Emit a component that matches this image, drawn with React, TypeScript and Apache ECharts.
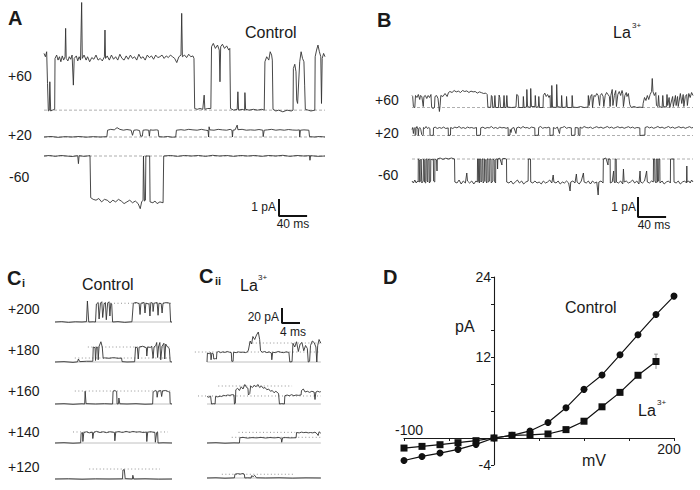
import React, { useEffect, useRef } from "react";
import * as echarts from "echarts";

type Pt = [number, number];

// ---------------- Panel D : I-V relation ----------------
const ivVoltages = [-100, -80, -60, -40, -20, 0, 20, 40, 60, 80, 100, 120, 140, 160, 180, 200];
const ivControl = [-3.35, -2.75, -2.25, -1.7, -0.95, 0, 0.4, 1.05, 2.3, 4.5, 7.25, 9.4, 12.4, 15.4, 18.4, 21.15];
const ivLa = [-1.5, -1.25, -1.0, -0.7, -0.4, 0, 0.4, 0.45, 0.6, 1.25, 2.5, 4.65, 6.8, 9.35, 11.4];
const ivLaErr = 1.1;
const ivYLabels = [24, 12, -4];

// ---------------- Panel A : control traces (ms, pA) ----------------
const traceA60: Pt[] = [[0,3.4],[2,3.2],[3.8,3.5],[5,1.6],[6.2,-0.05],[7.5,0],[8.3,1.7],[9.5,-0.05],[12,0],[15.2,0.05],[15.7,3.1],[18,3.3],[20,3.0],[22,3.2],[24,2.9],[26,3.25],[28,3.0],[30,3.2],[30.8,4.9],[31.6,3.1],[34,2.95],[36,3.2],[38,3.05],[40,3.3],[41.8,1.5],[43,3.1],[46,3.25],[48,2.95],[50,3.2],[52,3.0],[53.6,6.45],[54.5,3.1],[57,3.3],[60,3.0],[62,3.2],[65,2.9],[68,3.15],[71,3.05],[74,3.3],[77,3.0],[80,3.1],[83,2.95],[86,3.2],[86.8,4.8],[87.6,3.1],[90,3.25],[93,3.0],[96,3.3],[99,3.05],[102,3.2],[105,3.0],[108,3.35],[111,3.1],[114,3.0],[117,3.25],[120,3.05],[123,3.3],[126,3.1],[129,3.2],[132,3.0],[135,3.35],[138,3.1],[141,3.2],[144,3.0],[147,3.3],[150,3.15],[153,3.25],[156,3.05],[159,3.3],[162,3.15],[165,3.2],[168,3.3],[171,3.1],[174,3.25],[177,3.15],[180,3.3],[183,3.2],[186,3.1],[189,2.85],[192,3.2],[195,3.3],[196,5.8],[197,3.2],[200,3.3],[203,3.15],[206,3.35],[209,3.2],[212,3.25],[213.5,3.1],[214.5,0.1],[218,0.05],[222,0.1],[226,0.05],[228,0.9],[229,0.05],[233,0.1],[237.5,0.1],[238.5,3.8],[241,4.0],[244,3.7],[247,3.9],[249.5,3.6],[250.5,1.7],[251.5,3.8],[254,3.95],[257,3.7],[260,3.85],[263,3.6],[264.5,3.7],[265.5,0.1],[270,0],[275,0.05],[276,1.1],[277,0],[282,0.05],[285.5,0],[286,1.05],[287,0.05],[292,0],[298,0.05],[304,0],[310,0.05],[313.5,0],[314.5,2.9],[317,3.2],[320,3.0],[322,3.5],[324,3.3],[325,3.0],[326,0.05],[330,-0.05],[334,0],[340,-0.1],[346,0],[352,-0.05],[354.5,0],[355,2.5],[357,2.75],[358.7,2.3],[359.7,0.6],[361,0.4],[364,2.9],[366,3.5],[368,3.1],[370,2.9],[371,1.5],[372,0.05],[376,0],[380,-0.05],[385.5,0],[386,3.2],[388,3.6],[390,3.9],[392,3.5],[394,3.2],[395,0.4],[396,3.1],[398,3.4],[400,3.2]];

const traceA20: Pt[] = [[0,0],[10,0.03],[20,-0.02],[30,0.02],[40,0],[50,0.03],[60,-0.01],[70,0.02],[80,0],[89.5,0.02],[90.5,0.4],[95,0.45],[100,0.42],[104,0.55],[108,0.45],[113,0.4],[118,0.44],[124,0.4],[126,0.1],[128,0.4],[132,0.42],[136,0.38],[137.5,0.05],[140,0.05],[141,0.4],[145,0.42],[149,0.4],[150,0.05],[151,0.42],[155,0.4],[160,0.42],[162.5,0.4],[163.5,0.02],[170,0],[176,0.03],[182,-0.01],[187.5,0],[188.5,0.4],[195,0.43],[200,0.4],[206,0.45],[212,0.42],[218,0.4],[224,0.45],[230,0.4],[233.5,0.38],[234.3,0.0],[235,0.6],[236,0.42],[242,0.4],[248,0.45],[254,0.42],[260,0.4],[265,0.45],[267.5,0.4],[268.3,0],[269,0.4],[272,0.42],[275,0.7],[276,0.43],[282,0.45],[288,0.4],[294,0.42],[300,0.4],[306,0.44],[311.5,0.4],[312,0.02],[313.5,0.4],[318,0.42],[324,0.45],[330,0.4],[336,0.43],[342,0.4],[348,0.44],[354,0.41],[360,0.4],[363.5,0.42],[364,0.0],[365,0.4],[370,0.42],[377,0.4],[378,0.02],[385,0],[392,0.03],[400,0]];

const traceAm60: Pt[] = [[0,0],[8,0.03],[16,-0.02],[24,0.03],[32,0],[40,-0.03],[48,0.02],[49,-0.45],[50,0.02],[57,-0.02],[65.5,0.02],[66.5,-2.45],[70,-2.55],[74,-2.6],[78,-2.5],[82,-2.7],[86,-2.55],[90,-2.6],[94,-2.75],[98,-2.6],[102,-2.7],[106,-2.55],[110,-2.65],[114,-2.8],[118,-2.7],[122,-2.6],[126,-2.75],[130,-2.65],[134,-2.8],[137,-3.1],[139,-2.7],[141,-2.6],[141.6,0],[142.4,0],[143,-2.65],[144.4,-2.6],[145,0],[150.4,0],[151,-2.7],[155,-2.75],[158,-2.65],[161,-2.8],[165,-2.7],[169.5,-2.75],[170.4,0],[180,0.03],[190,-0.02],[200,0.03],[210,0],[220,0.03],[230,-0.02],[240,0.04],[250,0],[260,0.03],[270,-0.02],[280,0.03],[290,0],[300,0.03],[310,-0.02],[320,0.03],[330,0],[340,0.04],[350,-0.02],[360,0.03],[370,0],[378,0.02],[378.6,-0.25],[379.4,0.02],[390,-0.02],[400,0]];

// ---------------- Panel B : La3+ traces (ms, pA) ----------------
const traceB60: Pt[] = [[0,0.6],[1,0.55],[2,0.05],[4,0],[5,0.6],[7,0.5],[9,0.65],[11,0.4],[12,0.6],[14,0.55],[16,0.05],[17,0.55],[19,0.6],[21,0.45],[23,0.6],[25,0.5],[27,0.65],[28,0],[30,-0.05],[32,0],[32.7,0.55],[35,0.6],[37,0.45],[39,-0.2],[40,0.1],[41,0.6],[44,0.55],[47,0.7],[50,0.55],[52,0.75],[54,0.8],[57,0.75],[60,0.85],[63,0.78],[66,0.82],[69,0.75],[72,0.85],[75,0.8],[78,0.83],[81,0.75],[84,0.82],[87,0.78],[90,0.8],[93,0.72],[96,0.78],[99,0.74],[102,0.7],[105,0.72],[107,0.65],[108,0.02],[112,0],[113,0.6],[114,0.55],[115,0],[117,0.02],[118,0.6],[119,0],[123,0],[124,0.62],[125,0.5],[126,0],[130,0],[131,0.6],[132,0],[134,0],[135,0.6],[136,0.02],[142,0],[148,0.02],[149,0.65],[151,0.6],[152,0],[158,0],[158.5,0.55],[159.5,0],[163,0.02],[163.5,0.9],[164.5,0.05],[168.5,0],[169,0.95],[170,0.05],[175,0.05],[175.5,0.6],[176.5,0],[180,0.05],[180.5,0.55],[181.5,0],[186.5,0],[187,0.6],[189,0.72],[191,0.55],[193,0.65],[195,0.5],[196.5,0.6],[197,0],[198.5,0],[199,1.1],[200,0.02],[205.5,0],[206,1.15],[207,0.05],[212.5,0],[213,0.6],[214,0],[219.5,0.02],[220,0.55],[221,0],[227.5,0],[228,0.6],[229,0.02],[235,0],[240,0.05],[245,0],[250.5,0.02],[251,0.6],[252,0.1],[254,0.55],[256,0.65],[257,0],[259,0.6],[261,0.55],[263,0.7],[265,0.6],[267,0.1],[268,0.6],[270,0.7],[272,0.55],[273,0.05],[275,0.6],[277,0.75],[279,0.65],[281,0.55],[282,0.05],[283,0.6],[285,0.9],[286,0.1],[288,0.6],[290,0.85],[291,0.05],[293,0.65],[295,0.8],[297,0.6],[299,0.85],[300,0.7],[301,0.05],[303,0.6],[305,0.75],[306,0.55],[308,0.7],[310,0.15],[312,0],[316,0.05],[320,0],[324,0.02],[328.5,0],[329,0.2],[331,0.5],[333,0.35],[335,0.6],[337,0.4],[339,0.65],[341,0.8],[342,1.45],[343,0.8],[345,0.6],[347,0.75],[348,0.1],[350,0.05],[351,0.6],[352,0.05],[356,0],[357,0.6],[358,0.05],[362,0.02],[363,0.65],[364,0.1],[366,0.5],[367,0],[371,0.55],[372,0.05],[375,0.6],[376,0.1],[378,0.55],[379,0.05],[382,0.7],[384,0.2],[386,0.65],[387,0.05],[389,0.55],[391,0.65],[392,0.1],[394,0.7],[396,0.5],[398,0.75],[400,0.6]];

const traceB20: Pt[] = [[0,0.3],[1,0.4],[2,0.1],[3,0.35],[4.3,0.4],[4.5,0],[5.5,0.05],[5.8,0.35],[7,0.45],[8.5,0.3],[9,0],[9.8,0.35],[11,0.4],[12.5,0.3],[13.8,0.05],[15,0],[16,0.05],[16.3,0.4],[18,0.35],[20,0.45],[22,0.35],[24,0.4],[25.5,0.35],[25.7,0.02],[28,0],[30.4,0.02],[30.6,0.38],[33,0.42],[36,0.35],[39,0.4],[42,0.36],[45,0.42],[48,0.35],[51.5,0.38],[51.8,0],[54.8,0.02],[55,0.4],[58,0.35],[61,0.42],[64,0.38],[67,0.45],[70,0.36],[73,0.4],[76,0.35],[79,0.42],[82,0.38],[85,0.4],[88,0.36],[91.8,0.4],[92,0],[97.5,0.02],[97.8,0.38],[101,0.42],[104,0.35],[107,0.4],[110,0.38],[113,0.45],[116,0.36],[119,0.4],[122,0.35],[125,0.42],[128,0.38],[131,0.4],[134,0.36],[136.8,0.4],[137,0],[139.5,0.02],[139.8,0.3],[141,0.15],[142,0.35],[145,0.4],[148,0.1],[149,0.38],[152,0.42],[155,0.36],[158,0.45],[161,0.38],[164,0.4],[167,0.35],[170,0.42],[174.8,0.38],[175,0],[180,0.02],[180.3,0.4],[183,0.45],[186,0.36],[189,0.4],[192,0.38],[195,0.42],[196.2,0.38],[196.4,0],[201,0.02],[201.3,0.4],[204,0.35],[207,0.42],[210,0.1],[211,0.38],[214,0.4],[217,0.45],[220,0.36],[223,0.4],[226.8,0.38],[227,0],[232,0.02],[232.3,0.4],[236.6,0.38],[236.8,0.05],[239,0],[239.3,0.42],[242,0.36],[245,0.45],[248,0.4],[251,0.38],[254,0.42],[257,0.35],[260,0.4],[263,0.44],[266,0.38],[269,0.42],[272,0.36],[275,0.4],[278,0.45],[281,0.38],[284,0.42],[287,0.36],[290,0.4],[293,0.44],[296,0.38],[299,0.42],[302,0.36],[305,0.4],[308,0.44],[311,0.38],[314,0.42],[317,0.36],[320,0.4],[324.3,0.38],[324.5,0],[331.5,0.02],[331.8,0.4],[335,0.44],[338,0.38],[341,0.42],[344,0.36],[347,0.4],[350,0.45],[353,0.38],[356,0.42],[359,0.36],[362,0.4],[365,0.45],[368,0.38],[371,0.42],[374,0.36],[377,0.4],[380,0.44],[383,0.38],[386,0.42],[389,0.36],[392,0.4],[395,0.44],[398,0.38],[400,0.4]];

const traceBm60: Pt[] = [[0,-1.1],[2,-1.2],[4,-1.05],[6,-1.2],[8,-1.1],[8.8,-1.15],[9,0],[10.5,-0.05],[10.8,-1.15],[12.5,-1.1],[12.8,0],[13.8,0],[14,-1.2],[16,-1.1],[16.3,0],[17.5,-0.05],[17.8,-1.15],[19.5,-1.2],[19.8,0],[21.2,0],[21.5,-1.1],[22.5,-1.15],[22.8,-0.05],[24.4,0],[24.7,-1.2],[26.5,-1.1],[26.8,0],[29,-0.05],[30.4,0],[30.7,-1.1],[32.4,-1.15],[32.7,0],[35,-0.05],[35.6,-0.6],[36,0],[40,0.05],[44,-0.02],[48,0.04],[52,0],[56,0.05],[60.5,0],[61,-1.15],[64,-1.2],[67,-1.05],[70,-1.25],[73,-1.1],[76,-1.2],[78,-0.7],[79,-1.1],[82,-1.2],[85,-1.1],[88,-1.25],[91,-1.1],[93,-1.15],[93.3,0],[94.5,0],[94.8,-1.1],[96,-1.2],[96.3,0],[97.8,0],[98.1,-1.15],[99.5,-1.1],[99.8,0],[101,0],[101.3,-1.2],[103,-1.1],[103.3,0],[105,-0.05],[105.3,-1.1],[106.5,-1.2],[106.8,0],[108.2,0],[108.5,-1.15],[110.5,-1.1],[110.8,0],[112.5,0],[112.8,-1.2],[115,-1.1],[115.3,0],[117,-0.05],[117.3,-1.1],[119,-1.2],[119.3,0],[121.5,0],[121.8,-0.5],[122.2,0],[125,0.04],[128,-0.3],[128.4,0],[131,0.03],[134.5,0],[134.8,-1.15],[138,-1.2],[141,-1.1],[144,-1.25],[147,-1.15],[150,-1.05],[153,-1.2],[156,-1.1],[159,-1.25],[162,-1.15],[165.3,-1.1],[165.6,0],[168.7,0],[169,-1.15],[172,-1.2],[175,-1.1],[178,-1.2],[181,-1.15],[184,-1.25],[187,-1.1],[190,-1.2],[193,-1.15],[196,-1.05],[199,-1.2],[201,-0.8],[202,-1.15],[205,-1.2],[208,-1.1],[211,-1.25],[214,-1.15],[217,-1.2],[220,-1.1],[223,-1.2],[225,-1.6],[226,-1.15],[229,-1.1],[232,-1.2],[234,-0.75],[235,-1.15],[238,-1.25],[241,-1.1],[244,-0.7],[245,-1.15],[248,-1.2],[251,-1.1],[254,-1.25],[257,-1.1],[260,-1.2],[263,-1.15],[265,-1.8],[266,-1.15],[269,-1.1],[272,-1.2],[272.4,0],[276,0.05],[279,-0.3],[279.5,0],[282,0],[282.3,-1.2],[285,-1.15],[287,-0.6],[287.5,-1.1],[289,-1.2],[289.3,0],[290.7,0],[291,-1.15],[294,-1.2],[297,-1.1],[300,-1.25],[301,-0.5],[302,-1.15],[305,-1.1],[308,-1.2],[311,-1.15],[314,-1.05],[317,-1.2],[320,-1.1],[323,-1.25],[324.6,-0.6],[325.5,-1.15],[328,-1.2],[331,-1.1],[334,-0.6],[335,-1.15],[338,-1.2],[341,-1.1],[343.5,-1.15],[343.8,0],[345.5,0],[345.8,-1.1],[347.5,-1.2],[347.8,0],[349.2,0],[349.5,-1.15],[351,-1.1],[351.3,0],[352.7,0],[353,-1.2],[356,-1.1],[359,-1.25],[362,-1.15],[365,-1.1],[367.8,-1.2],[368,0],[372.7,0],[373,-1.15],[376,-1.2],[379,-1.1],[382,-1.25],[385,-1.15],[388,-1.1],[390.8,-1.2],[391.2,-0.35],[391.6,-1.15],[394,-1.1],[396,-1.2],[398,-1.05],[400,-1.15]];

// ---------------- Panel Ci : control, high voltages (ms, pA) ----------------
const traceCi200: Pt[] = [[0,0],[1.5,0.5],[3,-0.5],[4.5,0.3],[6,0],[7,0.5],[7.2,28],[7.5,0],[8.5,0.3],[9,0],[9.2,24],[9.6,26],[9.8,4],[10.1,25],[10.4,27],[10.6,6],[10.9,24],[11.2,26],[11.4,3],[11.7,25],[12,27],[12.2,8],[12.4,25],[12.6,24],[12.8,0],[14,0.5],[15.5,-0.5],[17.1,0.3],[17.4,25],[18,26],[18.7,24.5],[18.9,10],[19.1,25],[19.8,26],[20,12],[20.2,25],[20.9,24],[21.1,8],[21.3,26],[21.7,25],[21.8,14],[22,25],[22.7,26],[22.9,9],[23.1,25],[23.6,24.5],[23.8,12],[24,25],[24.8,26],[25.5,25],[25.7,0],[26,0]];
const traceCi180: Pt[] = [[0,0],[2,0.5],[4,-0.5],[5,0.2],[5.2,4],[5.5,0.5],[7,1],[8.4,1],[8.5,20],[8.9,19],[9.0,2],[9.2,20],[9.5,19.5],[9.6,3],[9.8,21],[10.2,27],[10.5,20],[10.7,5],[11,5.5],[12,5],[13,5.8],[14,5],[14.8,5.2],[14.9,0.5],[16,0],[17.7,0.3],[17.9,20],[18.3,19],[18.5,4],[18.7,20],[19.5,21],[20.3,19],[20.4,8],[20.6,20],[21.2,19.5],[21.5,21],[21.8,5],[22,20],[22.4,22],[22.6,26],[22.8,6],[23,20],[23.3,26],[23.5,3],[23.8,21],[24.2,25],[24.4,4],[24.6,24],[25,20],[25.4,18],[25.6,0.5],[26,0]];
const traceCi160: Pt[] = [[0,0],[2,0.4],[4,-0.4],[6,0.3],[6.6,0],[6.7,17],[6.9,0.5],[9,0],[11,0.4],[12.8,0],[12.9,17],[13.3,18],[13.7,16.5],[13.8,0],[14.1,0.3],[14.2,8],[14.4,0.3],[16,0],[18,0.4],[20,-0.3],[21.7,0],[21.8,16],[22.3,18],[22.6,17],[22.7,9],[22.9,17],[23.5,18],[23.7,10],[23.9,17.5],[24.6,18],[25.2,16.5],[25.5,16],[25.6,0.5],[26,0]];
const traceCi140: Pt[] = [[0,0],[2,0.4],[4,-0.3],[5.7,0.2],[5.8,13],[6.1,14],[6.2,2],[6.4,14],[7,15],[7.6,13.5],[8.3,14.5],[8.4,6],[8.6,14],[9.2,15.5],[10,14],[10.7,15],[11.4,13.8],[12.2,15],[13.2,14.2],[13.3,3],[13.5,14.5],[14.2,15.2],[15,14],[15.8,15.5],[16.6,14.2],[17.3,15.4],[18.1,14.5],[18.8,15],[19.6,14],[20.3,14.6],[20.4,2],[20.6,14.5],[21.3,15],[22.2,14],[22.3,1],[22.6,14],[22.8,14.5],[22.9,0],[24,0.3],[26,0]];
const traceCi120: Pt[] = [[0,0],[3,0.3],[6,-0.3],[9,0.2],[12,0],[15,0.2],[15.1,12],[15.4,12.5],[15.6,0.5],[17.2,0],[17.3,5],[17.5,0],[20,0.3],[23,-0.2],[26,0]];

// ---------------- Panel Cii : La3+, high voltages (ms, pA) ----------------
const traceCii180: Pt[] = [[0,0],[0.1,12],[0.5,11],[0.8,12.5],[0.9,3],[1.1,12],[1.4,11],[1.5,4],[1.9,4.5],[2.1,4],[2.2,13],[2.6,14],[3,12.5],[3.5,13.5],[4,12.8],[4.5,14],[5,13],[5.4,12.5],[5.5,1],[5.8,1],[5.9,13],[6.5,12.5],[7,13.5],[7.5,12.8],[8,13.2],[8.5,12.5],[9,13.5],[9.2,16],[9.6,28],[9.9,24],[10.2,34],[10.6,30],[11,36],[11.4,40],[11.7,30],[11.9,15],[12.3,13],[12.8,14],[13.3,12.5],[13.8,13.5],[14.3,12],[14.4,3],[14.6,13],[15.2,12.5],[15.8,14],[16.4,13],[17,12.5],[17.6,13.5],[18.2,12.8],[18.4,0],[18.9,0.5],[19.1,25],[19.5,20],[19.9,27],[20.3,14],[20.7,24],[21.1,26],[21.5,15],[21.9,22],[22.3,18],[22.5,0],[22.8,1],[23,22],[23.4,28],[23.8,26],[24.2,20],[24.4,0],[24.6,22],[24.9,30],[25.3,25]];
const traceCii160: Pt[] = [[0,10],[0.4,9],[0.8,10.5],[1,0],[1.5,0.5],[1.8,0],[1.9,10],[2.4,9.5],[2.9,10.5],[3.3,10],[3.6,11.5],[4.1,11],[4.6,12],[5.1,11.5],[5.6,12.5],[6,12],[6.1,0],[6.3,1],[6.4,19],[6.8,21],[7.2,18],[7.6,23],[8,20],[8.4,26],[8.8,22],[9.1,21],[9.2,12],[9.5,14],[9.7,24],[10.1,22],[10.5,25],[10.9,23],[11.3,26],[11.7,22],[12.1,24],[12.5,21],[12.9,22],[13.3,19],[13.7,20],[14.1,17],[14.5,18],[14.9,15],[15.3,17],[15.9,14],[16.1,0],[16.6,0.5],[17.2,0],[17.3,11],[17.8,12],[18.3,11],[18.8,12.5],[19.3,11],[19.8,12],[20.3,11.5],[20.9,12],[21,18],[21.4,20],[21.8,16],[22.3,17],[22.8,15.5],[23.3,17],[23.8,16],[24,6],[24.2,16],[24.6,17],[25,16],[25.3,16.5]];
const traceCii140: Pt[] = [[0,0],[2,0.4],[4,-0.3],[6,0.2],[7.2,0],[7.3,7],[8,7.5],[9,6.5],[10,7.2],[11,6.8],[12,7.5],[13,6.6],[14,7.3],[15,6.8],[16,7.4],[16.5,6],[16.6,1],[16.8,7],[17.5,7.2],[18.5,6.8],[19.8,7],[19.9,14],[20.5,13.5],[21,14.5],[21.5,13.8],[22,14.3],[22.5,13.5],[23,14],[23.5,13.5],[24,14.5],[24.5,12],[24.7,10],[24.9,15],[25.3,13]];
const traceCii120: Pt[] = [[0,0],[2,0.3],[4,-0.3],[6.1,0.2],[6.2,5],[6.8,5.8],[7.4,5.2],[8,6],[8.3,5],[8.4,0],[9,0.3],[9.8,0],[9.9,3],[10.3,2],[10.6,3.5],[11,0.3],[13,0],[16,0.3],[19,-0.2],[22,0.2],[25.3,0]];

// open-level dotted guides: [level pA, from ms, to ms]
const dotsCi200 = [[25, 10, 26]];
const dotsCi180 = [[20, 7.3, 25.6], [5.3, 4.4, 25.6]];
const dotsCi160 = [[17.3, 4.4, 25.6]];
const dotsCi140 = [[14.7, 4, 25.1]];
const dotsCi120 = [[13.3, 7.6, 23.3]];
const dotsCii180 = [[13.3, -2.7, 25.3], [25.3, 9.3, 25.3]];
const dotsCii160 = [[10.7, -2, 25.3], [24, 2.5, 18.9]];
const dotsCii140 = [[7.6, 5.5, 25.3], [14.2, 7, 19.6]];
const dotsCii120 = [[5, 3.3, 19.6]];

const scaleBarAB: Pt[] = [[0, 1], [0, 0], [40, 0]]; // 1 pA, 40 ms
const scaleBarC: Pt[] = [[0, 20], [0, 0], [4, 0]]; // 20 pA, 4 ms

const FONT = '"Liberation Sans", Arial, Helvetica, sans-serif';
const INK = "#1a1a1a";
const TRACE = "#333";

function buildOption() {
  const grids: any[] = [];
  const xAxes: any[] = [];
  const yAxes: any[] = [];
  const series: any[] = [];

  // ---- D grid first (index 0) ----
  const dLeft = 404, dRight = 674, dTop = 277, pxPerPA_D = 6.708;
  const yMinD = -4, yMaxD = 24, xMinD = -100, xMaxD = 200;
  const dHeight = (yMaxD - yMinD) * pxPerPA_D;
  const zeroYOffset = -(-yMinD * pxPerPA_D); // move bottom axis up to y=0
  const zeroXOffset = -((0 - xMinD) / (xMaxD - xMinD)) * (dRight - dLeft); // move left axis to x=0
  grids.push({ left: dLeft, top: dTop, width: dRight - dLeft, height: dHeight });
  xAxes.push({
    type: "value", gridIndex: 0, position: "bottom", offset: zeroYOffset, min: xMinD, max: xMaxD, interval: 50,
    axisLine: { onZero: false, lineStyle: { color: INK, width: 1.1 } },
    axisTick: { show: true, length: 3, lineStyle: { color: INK } },
    splitLine: { show: false },
    axisLabel: { formatter: (v: number) => (v === 200 ? "200" : ""), color: INK, fontSize: 14, fontFamily: FONT, margin: 4, padding: [0, 10, 0, 0] },
  });
  xAxes.push({
    type: "value", gridIndex: 0, position: "top", offset: -(yMaxD * pxPerPA_D), min: xMinD, max: xMaxD, interval: 50,
    axisLine: { show: false, onZero: false }, axisTick: { show: false },
    splitLine: { show: false },
    axisLabel: { formatter: (v: number) => (v === -100 ? "-100" : ""), color: INK, fontSize: 14, fontFamily: FONT, margin: 1, padding: [0, 0, 0, 10] },
  });
  yAxes.push({
    type: "value", gridIndex: 0, position: "left", offset: zeroXOffset, min: yMinD, max: yMaxD, interval: 4,
    axisLine: { onZero: false, lineStyle: { color: INK, width: 1.1 } },
    axisTick: { show: true, length: 3, lineStyle: { color: INK } },
    splitLine: { show: false },
    axisLabel: { formatter: (v: number) => (ivYLabels.includes(v) ? String(v) : ""), color: INK, fontSize: 14, fontFamily: FONT, margin: 3 },
  });
  series.push({
    type: "line", xAxisIndex: 0, yAxisIndex: 0, data: ivVoltages.map((v, i) => [v, ivControl[i]]),
    symbol: "circle", symbolSize: 7, itemStyle: { color: "#111" }, lineStyle: { color: "#111", width: 1.2 }, z: 3,
  });
  const laX = ivVoltages.slice(0, ivLa.length);
  const lastX = laX[laX.length - 1], lastY = ivLa[ivLa.length - 1];
  series.push({
    type: "line", xAxisIndex: 0, yAxisIndex: 0, data: [[lastX, lastY - ivLaErr], [lastX, lastY + ivLaErr]],
    symbol: "none", lineStyle: { color: "#888", width: 1 }, z: 2,
  });
  series.push({
    type: "line", xAxisIndex: 0, yAxisIndex: 0, data: [[lastX - 2, lastY + ivLaErr], [lastX + 2, lastY + ivLaErr]],
    symbol: "none", lineStyle: { color: "#888", width: 1 }, z: 2,
  });
  series.push({
    type: "line", xAxisIndex: 0, yAxisIndex: 0, data: laX.map((v, i) => [v, ivLa[i]]),
    symbol: "rect", symbolSize: 7, itemStyle: { color: "#111" }, lineStyle: { color: "#111", width: 1.2 }, z: 3,
  });

  // ---- trace grids ----
  function traceGrid(x0: number, baseY: number, pxX: number, pxY: number, xMin: number, xMax: number, yMin: number, yMax: number) {
    const gi = grids.length;
    grids.push({ left: x0 + xMin * pxX, top: baseY - yMax * pxY, width: (xMax - xMin) * pxX, height: (yMax - yMin) * pxY });
    xAxes.push({ type: "value", gridIndex: gi, min: xMin, max: xMax, show: false });
    yAxes.push({ type: "value", gridIndex: gi, min: yMin, max: yMax, show: false });
    return { xAxisIndex: xAxes.length - 1, yAxisIndex: yAxes.length - 1 };
  }
  function line(ax: any, data: any[], color: string, width: number, type: any = "solid", z = 2) {
    series.push({ type: "line", ...ax, data, symbol: "none", silent: true, lineStyle: { color, width, type }, z });
  }

  const msA = 0.7025;
  // Panel A
  const aDefs: [Pt[], number, number, number][] = [
    [traceA60, 110, -0.5, 6.6],
    [traceA20, 137, -0.5, 1.0],
    [traceAm60, 156, -3.4, 0.5],
  ];
  aDefs.forEach(([d, base, lo, hi]) => {
    const ax = traceGrid(44, base, msA, 17, 0, 400, lo, hi);
    line(ax, [[0, 0], [400, 0]], "#9a9a9a", 0.8, [3, 2], 1);
    line(ax, d, TRACE, 0.9);
  });
  const sbA = traceGrid(279, 216, msA, 17, 0, 40, 0, 1);
  line(sbA, scaleBarAB, "#111", 2);

  // Panel B
  const bDefs: [Pt[], number, number, number][] = [
    [traceB60, 107.5, -0.5, 1.6],
    [traceB20, 135.5, -0.5, 0.8],
    [traceBm60, 159, -2, 0.5],
  ];
  bDefs.forEach(([d, base, lo, hi]) => {
    const ax = traceGrid(412, base, msA, 20, 0, 400, lo, hi);
    line(ax, [[0, 0], [400, 0]], "#9a9a9a", 0.8, [3, 2], 1);
    line(ax, d, TRACE, 0.9);
  });
  const sbB = traceGrid(638, 217, msA, 20, 0, 40, 0, 1);
  line(sbB, scaleBarAB, "#111", 2);

  // Panel C
  const msC = 4.5, paC = 0.75;
  const ciDefs: [Pt[], number, number[][]][] = [
    [traceCi200, 322, dotsCi200],
    [traceCi180, 362, dotsCi180],
    [traceCi160, 404, dotsCi160],
    [traceCi140, 443, dotsCi140],
    [traceCi120, 479, dotsCi120],
  ];
  ciDefs.forEach(([d, base, dots]) => {
    const ax = traceGrid(55, base, msC, paC, 0, 26, -4, 42);
    line(ax, [[0, 0], [26, 0]], "#b0b0b0", 0.8, "solid", 1);
    dots.forEach(([lv, a, b]) => line(ax, [[a, lv], [b, lv]], "#777", 0.8, [1, 2.5], 1));
    line(ax, d, TRACE, 0.9);
  });
  const ciiDefs: [Pt[], number, number[][]][] = [
    [traceCii180, 362, dotsCii180],
    [traceCii160, 404, dotsCii160],
    [traceCii140, 443, dotsCii140],
    [traceCii120, 478, dotsCii120],
  ];
  ciiDefs.forEach(([d, base, dots]) => {
    const ax = traceGrid(207, base, msC, paC, -3, 25.3, -4, 42);
    line(ax, [[0, 0], [25.3, 0]], "#b0b0b0", 0.8, "solid", 1);
    dots.forEach(([lv, a, b]) => line(ax, [[a, lv], [b, lv]], "#777", 0.8, [1, 2.5], 1));
    line(ax, d, TRACE, 0.9);
  });
  const sbC = traceGrid(282, 323, msC, paC, 0, 4, 0, 20);
  line(sbC, scaleBarC, "#111", 2);

  // ---- texts ----
  const t = (text: string, x: number, y: number, size: number, opts: any = {}) => ({
    type: "text", x, y, silent: true,
    style: {
      text, fontSize: size, fontFamily: FONT, fontWeight: opts.bold ? "bold" : "normal", fill: INK,
      align: opts.align || "left", verticalAlign: "middle", textAlign: opts.align || "left", textVerticalAlign: "middle",
    },
  });
  const graphic = [
    t("A", 8, 17.5, 20, { bold: true }),
    t("Control", 245, 32.5, 16),
    t("+60", 8, 76, 14), t("+20", 8, 135, 14), t("-60", 9, 177, 14),
    t("1 pA", 276, 207, 12, { align: "right" }), t("40 ms", 293, 224, 12, { align: "center" }),
    t("B", 377, 20, 20, { bold: true }),
    t("La", 613, 32, 16), t("3+", 632, 25, 8),
    t("+60", 375, 100, 14), t("+20", 375, 133, 14), t("-60", 378, 175, 14),
    t("1 pA", 636, 207, 12, { align: "right" }), t("40 ms", 654, 225, 12, { align: "center" }),
    t("C", 7, 278, 20, { bold: true }), t("i", 22, 283, 11, { bold: true }),
    t("Control", 82, 284, 16),
    t("C", 199, 276, 20, { bold: true }), t("ii", 215, 281, 11, { bold: true }),
    t("La", 240, 285, 16), t("3+", 258, 277, 8),
    t("+200", 8, 309, 14), t("+180", 8, 350, 14), t("+160", 8, 391, 14), t("+140", 8, 432, 14), t("+120", 8, 467, 14),
    t("20 pA", 279, 317, 12, { align: "right" }), t("4 ms", 293, 332, 12, { align: "center" }),
    t("D", 383, 276.5, 20, { bold: true }),
    t("pA", 455, 326, 16), t("mV", 582, 460, 16),
    t("Control", 565, 307, 16),
    t("La", 638, 410, 16), t("3+", 657, 402, 8),
  ];

  return {
    animation: false,
    backgroundColor: "#fff",
    grid: grids, xAxis: xAxes, yAxis: yAxes, series, graphic,
  };
}

export default function App() {
  const ref = useRef<HTMLDivElement>(null);
  useEffect(() => {
    if (!ref.current) return;
    const chart = echarts.init(ref.current, null, { renderer: "svg" });
    chart.setOption(buildOption() as any);
    return () => chart.dispose();
  }, []);
  return (
    <div
      ref={ref}
      style={{ position: "fixed", left: 0, top: 0, width: 700, height: 490, background: "#fff" }}
    />
  );
}
